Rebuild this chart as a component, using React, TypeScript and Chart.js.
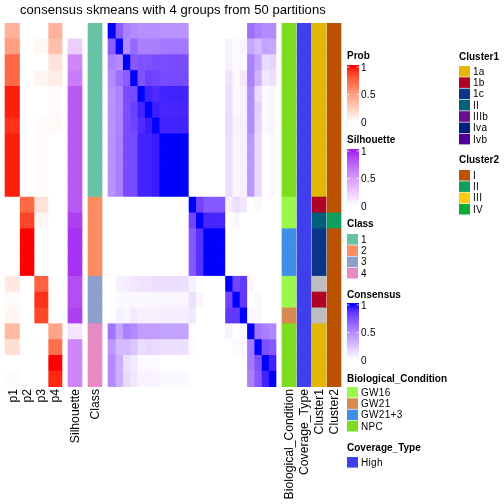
import React, { useEffect, useRef } from "react";
import { Chart, registerables } from "chart.js";

Chart.register(...registerables);

const rowLabels = Array.from({ length: 23 }, (_, i) => `s${i + 1}`);

const p1 = [0.4, 0.5, 0.75, 0.75, 0.97, 0.97, 0.93, 0.97, 0.97, 0.97, 0.97, 0, 0, 0, 0, 0, 0.12, 0.02, 0.05, 0.36, 0.17, 0, 0.02];
const p2 = [0, 0, 0, 0, 0, 0, 0, 0, 0, 0, 0, 0.75, 0.88, 1, 1, 1, 0, 0, 0, 0, 0, 0, 0];
const p3 = [0, 0.04, 0, 0.05, 0, 0, 0.02, 0.02, 0.02, 0.02, 0.02, 0.15, 0.04, 0, 0, 0, 0.77, 0.93, 0.87, 0, 0.01, 0, 0];
const p4 = [0.4, 0.33, 0.15, 0.1, 0.02, 0.02, 0.03, 0, 0, 0, 0, 0, 0, 0, 0, 0, 0, 0, 0, 0.47, 0.72, 1, 0.95];
const silhouette = [0, 0.25, 0.6, 0.65, 0.8, 0.8, 0.8, 0.8, 0.8, 0.8, 0.8, 0.8, 0.9, 0.95, 0.95, 0.95, 0.85, 0.85, 0.9, 0.13, 0.6, 0.6, 0.6];
const classes = ["1", "1", "1", "1", "1", "1", "1", "1", "1", "1", "1", "2", "2", "2", "2", "2", "3", "3", "3", "4", "4", "4", "4"];
const biological = ["NPC", "NPC", "NPC", "NPC", "NPC", "NPC", "NPC", "NPC", "NPC", "NPC", "NPC", "GW16", "GW16", "GW21+3", "GW21+3", "GW21+3", "GW16", "GW16", "GW21", "NPC", "NPC", "NPC", "NPC"];
const coverage = rowLabels.map(() => "High");
const cluster1 = ["1a", "1a", "1a", "1a", "1a", "1a", "1a", "1a", "1a", "1a", "1a", "1b", "II", "1c", "1c", "1c", "NA", "1b", "NA", "1a", "1a", "1a", "1a"];
const cluster2 = ["I", "I", "I", "I", "I", "I", "I", "I", "I", "I", "I", "I", "II", "I", "I", "I", "I", "I", "I", "I", "I", "I", "I"];

const consensus = [
  [1, 0.7, 0.55, 0.5, 0.48, 0.48, 0.48, 0.47, 0.47, 0.47, 0.47, 0, 0, 0, 0, 0, 0, 0, 0, 0.62, 0.55, 0.5, 0.5],
  [0.7, 1, 0.5, 0.65, 0.55, 0.55, 0.55, 0.58, 0.58, 0.58, 0.58, 0, 0, 0, 0, 0, 0.06, 0.02, 0.05, 0.38, 0.3, 0.4, 0.38],
  [0.55, 0.5, 1, 0.72, 0.75, 0.75, 0.77, 0.77, 0.77, 0.77, 0.77, 0, 0, 0, 0, 0, 0.06, 0.02, 0.02, 0.55, 0.4, 0.15, 0.18],
  [0.5, 0.62, 0.7, 1, 0.75, 0.82, 0.8, 0.78, 0.78, 0.78, 0.78, 0, 0, 0, 0, 0, 0.12, 0.02, 0.1, 0.55, 0.33, 0.1, 0.13],
  [0.47, 0.53, 0.77, 0.78, 1, 0.93, 0.9, 0.93, 0.93, 0.93, 0.93, 0, 0, 0, 0, 0, 0.14, 0.03, 0.06, 0.5, 0.15, 0.02, 0.04],
  [0.47, 0.53, 0.76, 0.82, 0.93, 1, 0.94, 0.92, 0.92, 0.92, 0.92, 0, 0, 0, 0, 0, 0.14, 0.03, 0.06, 0.5, 0.2, 0.02, 0.04],
  [0.47, 0.53, 0.77, 0.8, 0.9, 0.95, 1, 0.93, 0.93, 0.93, 0.93, 0, 0, 0, 0, 0, 0.15, 0.05, 0.07, 0.5, 0.18, 0.03, 0.05],
  [0.47, 0.55, 0.77, 0.78, 0.93, 0.93, 0.95, 1, 1, 1, 1, 0, 0, 0, 0, 0, 0.14, 0.04, 0.07, 0.45, 0.15, 0, 0.03],
  [0.47, 0.55, 0.77, 0.78, 0.93, 0.93, 0.95, 1, 1, 1, 1, 0, 0, 0, 0, 0, 0.14, 0.04, 0.07, 0.45, 0.15, 0, 0.03],
  [0.47, 0.55, 0.77, 0.78, 0.93, 0.93, 0.95, 1, 1, 1, 1, 0, 0, 0, 0, 0, 0.14, 0.04, 0.07, 0.45, 0.15, 0, 0.03],
  [0.47, 0.55, 0.77, 0.78, 0.93, 0.93, 0.95, 1, 1, 1, 1, 0, 0, 0, 0, 0, 0.14, 0.04, 0.07, 0.45, 0.15, 0, 0.03],
  [0, 0, 0, 0, 0, 0, 0, 0, 0, 0, 0, 1, 0.8, 0.72, 0.72, 0.72, 0.06, 0.14, 0.1, 0, 0.03, 0, 0],
  [0, 0, 0, 0, 0, 0, 0, 0, 0, 0, 0, 0.8, 1, 0.92, 0.92, 0.92, 0, 0.04, 0, 0, 0, 0, 0],
  [0, 0, 0, 0, 0, 0, 0, 0, 0, 0, 0, 0.72, 0.88, 1, 1, 1, 0, 0, 0, 0, 0, 0, 0],
  [0, 0, 0, 0, 0, 0, 0, 0, 0, 0, 0, 0.72, 0.88, 1, 1, 1, 0, 0, 0, 0, 0, 0, 0],
  [0, 0, 0, 0, 0, 0, 0, 0, 0, 0, 0, 0.72, 0.88, 1, 1, 1, 0, 0, 0, 0, 0, 0, 0],
  [0, 0.06, 0.07, 0.1, 0.12, 0.12, 0.14, 0.14, 0.14, 0.14, 0.14, 0.06, 0, 0, 0, 0, 1, 0.8, 0.85, 0.04, 0, 0, 0],
  [0, 0.03, 0.03, 0.03, 0.03, 0.03, 0.04, 0.04, 0.04, 0.04, 0.04, 0.13, 0.04, 0, 0, 0, 0.8, 1, 0.85, 0, 0.03, 0, 0],
  [0, 0.06, 0.04, 0.09, 0.06, 0.06, 0.06, 0.07, 0.07, 0.07, 0.07, 0.1, 0, 0, 0, 0, 0.85, 0.85, 1, 0.03, 0.03, 0, 0],
  [0.6, 0.4, 0.55, 0.5, 0.42, 0.42, 0.42, 0.4, 0.4, 0.4, 0.4, 0, 0, 0, 0, 0, 0.05, 0, 0.04, 1, 0.6, 0.55, 0.52],
  [0.45, 0.3, 0.3, 0.25, 0.14, 0.17, 0.15, 0.13, 0.13, 0.13, 0.13, 0.02, 0, 0, 0, 0, 0, 0.03, 0.03, 0.58, 1, 0.75, 0.72],
  [0.5, 0.35, 0.13, 0.09, 0.02, 0.02, 0.02, 0, 0, 0, 0, 0, 0, 0, 0, 0, 0, 0, 0, 0.58, 0.75, 1, 0.93],
  [0.5, 0.35, 0.16, 0.1, 0.05, 0.05, 0.05, 0.03, 0.03, 0.03, 0.03, 0, 0, 0, 0, 0, 0, 0, 0, 0.55, 0.72, 0.93, 1],
];

const classColors: Record<string, string> = { "1": "#66C2A5", "2": "#FC8D62", "3": "#8DA0CB", "4": "#E78AC3" };
const bioColors: Record<string, string> = { GW16: "#9CF74B", GW21: "#D68A4E", "GW21+3": "#3F8FE6", NPC: "#7CDC20" };
const covColors: Record<string, string> = { High: "#3F3FEE" };
const cluster1Colors: Record<string, string> = { "1a": "#E5B705", "1b": "#AE0326", "1c": "#0A3588", II: "#005F7A", IIIb: "#6A0E8E", Iva: "#00207E", Ivb: "#50009A", NA: "#BEBEBE" };
const cluster2Colors: Record<string, string> = { I: "#BA5300", II: "#0E9F5C", III: "#FFCB0F", IV: "#0CAB38" };

type RGB = [number, number, number];

const RED: RGB = [255, 0, 0];
const PURPLE: RGB = [160, 32, 240];
const BLUE: RGB = [0, 0, 255];

function toLab(c: RGB): RGB {
  const l = c.map((v) => {
    const s = v / 255;
    return s <= 0.04045 ? s / 12.92 : Math.pow((s + 0.055) / 1.055, 2.4);
  });
  const X = (0.4124 * l[0] + 0.3576 * l[1] + 0.1805 * l[2]) / 0.95047;
  const Y = 0.2126 * l[0] + 0.7152 * l[1] + 0.0722 * l[2];
  const Z = (0.0193 * l[0] + 0.1192 * l[1] + 0.9505 * l[2]) / 1.08883;
  const f = (t: number) => (t > 0.008856 ? Math.cbrt(t) : 7.787 * t + 16 / 116);
  return [116 * f(Y) - 16, 500 * (f(X) - f(Y)), 200 * (f(Y) - f(Z))];
}

function fromLab(c: RGB): string {
  const fy = (c[0] + 16) / 116;
  const fx = c[1] / 500 + fy;
  const fz = fy - c[2] / 200;
  const g = (t: number) => (t * t * t > 0.008856 ? t * t * t : (t - 16 / 116) / 7.787);
  const X = g(fx) * 0.95047;
  const Y = g(fy);
  const Z = g(fz) * 1.08883;
  const lin = [
    3.2406 * X - 1.5372 * Y - 0.4986 * Z,
    -0.9689 * X + 1.8758 * Y + 0.0415 * Z,
    0.0557 * X - 0.204 * Y + 1.057 * Z,
  ];
  const out = lin.map((v) => {
    const s = v <= 0.0031308 ? 12.92 * v : 1.055 * Math.pow(Math.max(v, 0), 1 / 2.4) - 0.055;
    return Math.round(Math.min(1, Math.max(0, s)) * 255);
  });
  return `rgb(${out[0]},${out[1]},${out[2]})`;
}

function ramp(color: RGB) {
  const a = toLab([255, 255, 255]);
  const b = toLab(color);
  return (v: number) => fromLab([a[0] + (b[0] - a[0]) * v, a[1] + (b[1] - a[1]) * v, a[2] + (b[2] - a[2]) * v]);
}
const redRamp = ramp(RED);
const purpleRamp = ramp(PURPLE);
const blueRamp = ramp(BLUE);

const FONT = '"Liberation Sans", Arial, sans-serif';
const ROW_TOP = 23;
const ROW_BOTTOM = 387;
const MAIN_LEFT = 108;
const MAIN_WIDTH = 168 / 23;
const TICK_NUDGE = 1;

type Track = { label: string; x0: number; x1: number; colors: string[]; tick: boolean };

const tracks: Track[] = [
  { label: "p1", x0: 5, x1: 19.5, colors: p1.map(redRamp), tick: true },
  { label: "p2", x0: 19.5, x1: 34, colors: p2.map(redRamp), tick: true },
  { label: "p3", x0: 34, x1: 48, colors: p3.map(redRamp), tick: true },
  { label: "p4", x0: 48, x1: 62, colors: p4.map(redRamp), tick: true },
  { label: "Silhouette", x0: 68, x1: 82, colors: silhouette.map(purpleRamp), tick: true },
  { label: "Class", x0: 88, x1: 102, colors: classes.map((c) => classColors[c]), tick: true },
  ...rowLabels.map((_, j) => ({
    label: `consensus ${j + 1}`,
    x0: MAIN_LEFT + j * MAIN_WIDTH,
    x1: MAIN_LEFT + (j + 1) * MAIN_WIDTH,
    colors: consensus.map((row) => blueRamp(row[j])),
    tick: false,
  })),
  { label: "Biological_Condition", x0: 282, x1: 296, colors: biological.map((c) => bioColors[c]), tick: true },
  { label: "Coverage_Type", x0: 297, x1: 311, colors: coverage.map((c) => covColors[c]), tick: true },
  { label: "Cluster1", x0: 312, x1: 326, colors: cluster1.map((c) => cluster1Colors[c]), tick: true },
  { label: "Cluster2", x0: 327, x1: 341, colors: cluster2.map((c) => cluster2Colors[c]), tick: true },
];

const tickTracks = tracks.filter((t) => t.tick);

function spaced(ctx: CanvasRenderingContext2D, text: string, x: number, y: number, spacing: number) {
  (ctx as any).letterSpacing = `${spacing}px`;
  ctx.fillText(text, x, y);
  (ctx as any).letterSpacing = "0px";
}

function legendTitle(ctx: CanvasRenderingContext2D, text: string, x: number, y: number) {
  ctx.fillStyle = "#000";
  ctx.font = `bold 10px ${FONT}`;
  ctx.textBaseline = "alphabetic";
  ctx.textAlign = "left";
  spaced(ctx, text, x, y, 0);
}

function legendLabel(ctx: CanvasRenderingContext2D, text: string, x: number, y: number) {
  ctx.fillStyle = "#000";
  ctx.font = `10px ${FONT}`;
  ctx.textBaseline = "middle";
  ctx.textAlign = "left";
  spaced(ctx, text, x, y, 0.3);
}

function gradientLegend(ctx: CanvasRenderingContext2D, title: string, titleY: number, top: number, fn: (v: number) => string) {
  legendTitle(ctx, title, 347, titleY);
  const x = 347;
  const w = 12;
  const y1 = top + 2;
  const y0 = top + 57;
  const g = ctx.createLinearGradient(0, y0, 0, y1);
  for (let i = 0; i <= 20; i++) g.addColorStop(i / 20, fn(i / 20));
  ctx.fillStyle = g;
  ctx.fillRect(x, top, w, 58);
  ctx.fillStyle = "rgba(255,255,255,0.75)";
  [y1, (y0 + y1) / 2, y0].forEach((y) => {
    ctx.fillRect(x, y - 0.5, 2.5, 1);
    ctx.fillRect(x + w - 2.5, y - 0.5, 2.5, 1);
  });
  legendLabel(ctx, "1", 361, top + 3);
  legendLabel(ctx, "0.5", 361, top + 30);
  legendLabel(ctx, "0", 361, top + 58);
}

function swatchLegend(ctx: CanvasRenderingContext2D, title: string, titleY: number, x: number, top: number, items: string[], colors: Record<string, string>) {
  legendTitle(ctx, title, x, titleY);
  const h = 11.3;
  items.forEach((item, i) => {
    ctx.fillStyle = colors[item];
    ctx.fillRect(x, top + i * h, 11, h - 0.7);
    legendLabel(ctx, item, x + 14, top + i * h + h / 2 + 0.3);
  });
}

const overlayPlugin = {
  id: "overlay",
  afterDraw(chart: any) {
    const ctx: CanvasRenderingContext2D = chart.ctx;
    ctx.save();
    ctx.fillStyle = "#000";
    ctx.font = `13px ${FONT}`;
    ctx.textAlign = "left";
    ctx.textBaseline = "alphabetic";
    spaced(ctx, "consensus skmeans with 4 groups from 50 partitions", 20, 14, 0.06);

    gradientLegend(ctx, "Prob", 59, 65, redRamp);
    gradientLegend(ctx, "Silhouette", 143, 149, purpleRamp);
    swatchLegend(ctx, "Class", 227, 347, 234, ["1", "2", "3", "4"], classColors);
    gradientLegend(ctx, "Consensus", 298, 303, blueRamp);
    swatchLegend(ctx, "Biological_Condition", 382, 347, 387, ["GW16", "GW21", "GW21+3", "NPC"], bioColors);
    swatchLegend(ctx, "Coverage_Type", 451, 347, 457, ["High"], covColors);
    swatchLegend(ctx, "Cluster1", 60, 459, 66, ["1a", "1b", "1c", "II", "IIIb", "Iva", "Ivb"], cluster1Colors);
    swatchLegend(ctx, "Cluster2", 163, 459, 170, ["I", "II", "III", "IV"], cluster2Colors);
    ctx.restore();
  },
};

export default function App() {
  const ref = useRef<HTMLCanvasElement>(null);

  useEffect(() => {
    if (!ref.current) return;
    const chart = new Chart(ref.current, {
      type: "bar",
      data: {
        labels: rowLabels,
        datasets: tracks.map((t) => ({
          label: t.label,
          data: rowLabels.map(() => [t.x0, t.x1]),
          backgroundColor: t.colors,
          borderWidth: 0,
          grouped: false,
          categoryPercentage: 1,
          barPercentage: 1,
        })),
      } as any,
      options: {
        indexAxis: "y",
        animation: false,
        responsive: false,
        devicePixelRatio: 1,
        layout: { padding: { top: ROW_TOP, bottom: 0, left: 0, right: 0 } },
        plugins: { legend: { display: false }, title: { display: false }, tooltip: { enabled: false } },
        scales: {
          x: {
            type: "linear",
            min: 0,
            max: 504,
            grid: { display: false, drawTicks: false },
            border: { display: false },
            afterBuildTicks(scale: any) {
              scale.ticks = tickTracks.map((t) => ({ value: (t.x0 + t.x1) / 2 + TICK_NUDGE, label: t.label }));
            },
            afterTickToLabelConversion(scale: any) {
              scale.ticks.forEach((tick: any, i: number) => {
                tick.label = tickTracks[i].label;
              });
            },
            afterFit(scale: any) {
              scale.height = 504 - ROW_BOTTOM;
              scale.paddingLeft = 0;
              scale.paddingRight = 0;
            },
            ticks: {
              autoSkip: false,
              minRotation: 90,
              maxRotation: 90,
              padding: 2,
              color: "#000",
              font: { family: FONT, size: 12.2 },
            },
          },
          y: { type: "category", display: false, grid: { display: false } },
        },
      } as any,
      plugins: [overlayPlugin],
    });
    return () => chart.destroy();
  }, []);

  return (
    <div style={{ position: "absolute", left: 0, top: 0, width: 504, height: 504, background: "#fff" }}>
      <canvas ref={ref} width={504} height={504} style={{ display: "block" }} />
    </div>
  );
}
